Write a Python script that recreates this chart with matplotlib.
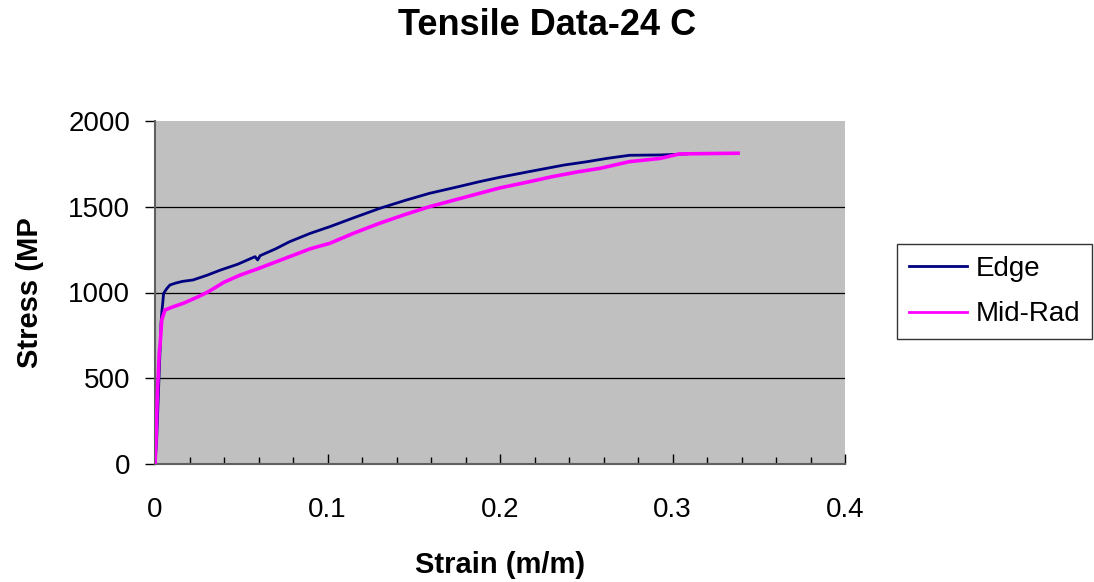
import matplotlib
matplotlib.use("Agg")
import matplotlib.pyplot as plt
from matplotlib.ticker import MultipleLocator

plt.rcParams['font.family'] = ['Liberation Sans', 'DejaVu Sans']

# ---- data ----
edge_strain = [0, 0.001, 0.002, 0.003, 0.0035, 0.004, 0.0045, 0.005, 0.007, 0.0087,
               0.012, 0.016, 0.022, 0.03, 0.038, 0.048, 0.058, 0.0595, 0.061, 0.07,
               0.078, 0.09, 0.1014, 0.115, 0.1304, 0.145, 0.159, 0.175, 0.188, 0.2,
               0.217, 0.237, 0.25, 0.262, 0.275, 0.293, 0.308]
edge_stress = [0, 150, 420, 680, 820, 890, 940, 995, 1025, 1044,
               1055, 1065, 1073, 1100, 1131, 1165, 1209, 1190, 1215, 1255,
               1296, 1345, 1384, 1435, 1491, 1537, 1578, 1615, 1646, 1672,
               1705, 1743, 1762, 1782, 1800, 1802, 1808]

mid_strain = [0, 0.0006, 0.0013, 0.0025, 0.003, 0.0039, 0.0058, 0.01, 0.0164, 0.025,
              0.031, 0.04, 0.049, 0.06, 0.078, 0.09, 0.1014, 0.115, 0.130, 0.145,
              0.159, 0.175, 0.188, 0.2, 0.217, 0.23, 0.246, 0.258, 0.275, 0.293,
              0.304, 0.32, 0.338]
mid_stress = [0, 140, 392, 655, 700, 840, 898, 915, 937, 975,
              1005, 1060, 1100, 1140, 1209, 1255, 1287, 1345, 1403, 1455,
              1500, 1543, 1578, 1610, 1646, 1675, 1705, 1724, 1763, 1782,
              1808, 1810, 1812]

series_names = ["Edge", "Mid-Rad"]
x_ticks = [0, 0.1, 0.2, 0.3, 0.4]
x_tick_labels = ["0", "0.1", "0.2", "0.3", "0.4"]
y_ticks = [0, 500, 1000, 1500, 2000]
y_tick_labels = ["0", "500", "1000", "1500", "2000"]

fig = plt.figure(figsize=(10.94, 5.82), dpi=100)
ax = fig.add_axes([155/1094, 1-464/582, (845-155)/1094, (464-121)/582])
ax.set_facecolor('#C0C0C0')

ax.plot(edge_strain, edge_stress, color='#000080', lw=2.0, label=series_names[0], zorder=3)
ax.plot(mid_strain, mid_stress, color='#FF00FF', lw=2.6, label=series_names[1], zorder=4)

ax.set_xlim(0, 0.4)
ax.set_ylim(0, 2000)
ax.set_xticks(x_ticks, x_tick_labels)
ax.set_yticks(y_ticks, y_tick_labels)
ax.xaxis.set_minor_locator(MultipleLocator(0.02))

# horizontal gridlines (interior only, as in the reference)
for yv in y_ticks[1:-1]:
    ax.axhline(yv, color='black', lw=0.9, zorder=1)

for s in ['top', 'right']:
    ax.spines[s].set_visible(False)
for s in ['left', 'bottom']:
    ax.spines[s].set_color('#606060')
    ax.spines[s].set_linewidth(1.5)

ax.tick_params(axis='x', which='major', direction='in', length=7, width=1, pad=24,
               labelsize=20, color='black')
ax.tick_params(axis='x', which='minor', direction='in', length=5, width=1, color='black')
ax.tick_params(axis='y', which='major', direction='out', length=7, width=1, pad=11,
               labelsize=20, color='black')

ax.set_xlabel("Strain (m/m)", fontsize=21, fontweight='bold', labelpad=20)
ax.set_ylabel("Stress (MP", fontsize=21, fontweight='bold', labelpad=17)

fig.text(0.5, 1-35/582, "Tensile Data-24 C", ha='center', va='baseline',
         fontsize=26, fontweight='bold')

leg = ax.legend(loc='center left', bbox_to_anchor=(897/1094, 1-291.5/582),
                bbox_transform=fig.transFigure, fontsize=20, frameon=True,
                fancybox=False, edgecolor='black', handlelength=2.1,
                handletextpad=0.32, labelspacing=0.7, borderpad=0.42,
                borderaxespad=0)
leg.get_frame().set_linewidth(1.0)
for line in leg.get_lines():
    line.set_linewidth(2.0)

fig.savefig("out.png", dpi=100)
